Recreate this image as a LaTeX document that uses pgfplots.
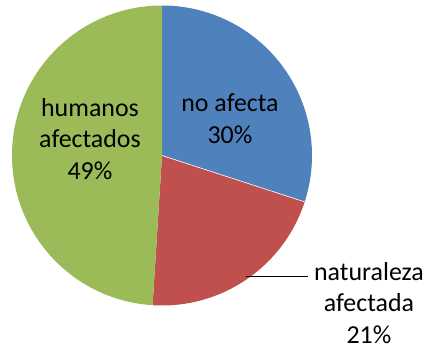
\documentclass[border=0pt]{standalone}
\usepackage{pgfplots}
\pgfplotsset{compat=1.18}
\usepackage{pgfplotstable}
\usepackage{fontspec}
\setmainfont{Carlito}
\definecolor{pieblue}{HTML}{4F81BD}
\definecolor{piered}{HTML}{C0504D}
\definecolor{piegreen}{HTML}{9BBB59}
\pgfplotstableread{
label value
noafecta 30
naturaleza 21
humanos 49
}\piedata
\begin{document}
\begin{tikzpicture}
\pgfplotstablegetelem{0}{value}\of\piedata \let\va\pgfplotsretval
\pgfplotstablegetelem{1}{value}\of\piedata \let\vb\pgfplotsretval
\pgfplotstablegetelem{2}{value}\of\piedata \let\vc\pgfplotsretval
\pgfmathsetmacro\aA{90}
\pgfmathsetmacro\aB{\aA-3.6*\va}
\pgfmathsetmacro\aC{\aB-3.6*\vb}
\pgfmathsetmacro\aD{\aC-3.6*\vc}
\begin{axis}[
  x=1bp, y=1bp, scale only axis,
  xmin=0, xmax=430, ymin=0, ymax=349,
  hide axis, clip=false,
]
\path (axis cs:0,0) rectangle (axis cs:430,349);
\fill[pieblue] (axis cs:162,193.5) -- ++(\aA:150bp) arc[start angle=\aA, end angle=\aB, radius=150bp] -- cycle;
\fill[piered] (axis cs:162,193.5) -- ++(\aB:150bp) arc[start angle=\aB, end angle=\aC, radius=150bp] -- cycle;
\fill[piegreen] (axis cs:162,193.5) -- ++(\aC:150bp) arc[start angle=\aC, end angle=\aD, radius=150bp] -- cycle;
\draw[white, line width=0.6bp] (axis cs:162,193.5) -- ++(\aB:150bp);
\draw[black, line width=1bp] (axis cs:246,72) -- (axis cs:308,72);
\node[align=center, font=\fontsize{26}{32}\selectfont] at (axis cs:230,230) {no afecta\\\va\%};
\node[align=center, font=\fontsize{26}{32}\selectfont] at (axis cs:90,210) {humanos\\afectados\\\vc\%};
\node[align=center, font=\fontsize{26}{32}\selectfont] at (axis cs:369,46) {naturaleza\\afectada\\\vb\%};
\end{axis}
\end{tikzpicture}
\end{document}
